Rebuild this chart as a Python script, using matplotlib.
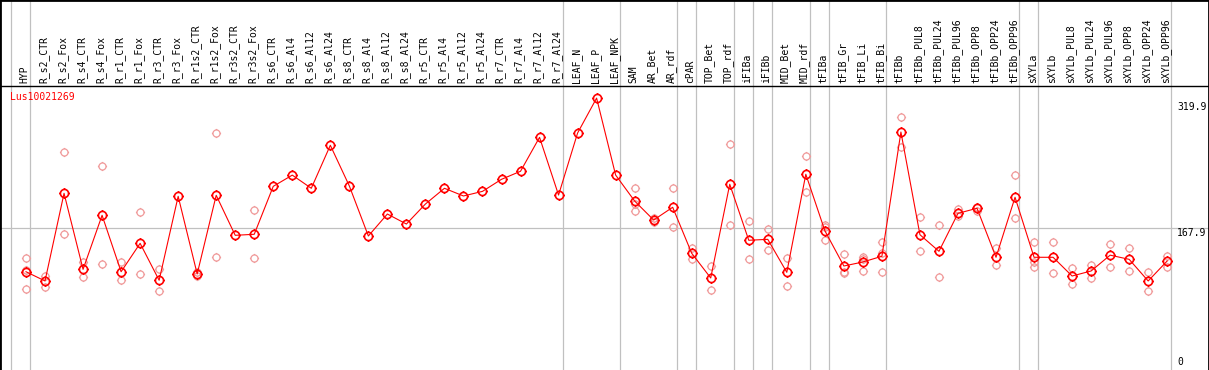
#!/usr/bin/env python3
# expression profile for Lus10021269

import matplotlib
matplotlib.use("Agg")
import matplotlib.pyplot as plt
from matplotlib.path import Path
import matplotlib.transforms as mtransforms
import numpy as np

gene = "Lus10021269"

samples = ["HYP",
           "R_s2_CTR", "R_s2_Fox", "R_s4_CTR", "R_s4_Fox", "R_r1_CTR", "R_r1_Fox",
           "R_r3_CTR", "R_r3_Fox", "R_r1s2_CTR", "R_r1s2_Fox", "R_r3s2_CTR", "R_r3s2_Fox",
           "R_s6_CTR", "R_s6_Al4", "R_s6_Al12", "R_s6_Al24",
           "R_s8_CTR", "R_s8_Al4", "R_s8_Al12", "R_s8_Al24",
           "R_r5_CTR", "R_r5_Al4", "R_r5_Al12", "R_r5_Al24",
           "R_r7_CTR", "R_r7_Al4", "R_r7_Al12", "R_r7_Al24",
           "LEAF_N", "LEAF_P", "LEAF_NPK",
           "SAM", "AR_Bet", "AR_rdf",
           "cPAR",
           "TOP_Bet", "TOP_rdf",
           "iFIBa",
           "iFIBb",
           "MID_Bet", "MID_rdf",
           "tFIBa",
           "tFIB_Gr", "tFIB_Li", "tFIB_Bi",
           "tFIBb", "tFIBb_PUL8", "tFIBb_PUL24", "tFIBb_PUL96",
           "tFIBb_OPP8", "tFIBb_OPP24", "tFIBb_OPP96",
           "sXYLa",
           "sXYLb", "sXYLb_PUL8", "sXYLb_PUL24", "sXYLb_PUL96",
           "sXYLb_OPP8", "sXYLb_OPP24", "sXYLb_OPP96"]

# number of samples between grey separators
group_sizes = [1, 28, 3, 3, 1, 2, 1, 1, 2, 1, 3, 7, 1, 7]

means = [116.8,
         106.0, 208.5, 119.6, 182.8, 116.8, 150.0,
         106.8, 205.0, 114.2, 206.2, 159.4, 160.6,
         216.7, 229.8, 214.4, 264.7,
         217.1, 158.6, 184.3, 172.6,
         196.0, 214.4, 205.4, 210.8,
         224.9, 234.3, 274.0, 206.5,
         279.0, 319.9, 229.9,
         199.5, 177.3, 192.2,
         138.4,
         109.5, 219.1,
         153.6,
         154.7,
         116.1, 230.8,
         164.8,
         123.5, 128.2, 134.9,
         280.2, 160.1, 140.7, 185.1,
         191.0, 133.7, 203.9,
         133.7,
         133.7, 111.8, 117.7, 136.2,
         131.3, 106.0, 129.4]

replicates = [[132.5, 118.8, 96.3],
              [112.2, 99.3], [256.5, 160.6], [128.6, 111.0], [240.5, 125.5],
              [127.8, 106.8], [186.3, 114.2], [120.0, 93.9], [],
              [116.1, 112.3], [278.7, 133.7], [], [188.7, 132.5],
              [], [], [], [], [], [], [], [], [], [], [], [], [], [], [], [],
              [], [], [],
              [214.4, 196.0, 188.2], [180.0, 174.6], [214.4, 168.8],
              [145.0, 131.7],
              [123.5, 95.1], [265.8, 171.5],
              [176.1, 131.7],
              [166.8, 142.2],
              [133.2, 100.1], [252.2, 209.7],
              [171.5, 168.8, 153.9],
              [137.2, 116.8, 115.7], [134.4, 131.7, 117.7], [151.2, 138.4, 116.1],
              [297.4, 262.7], [180.5, 141.1], [171.1, 110.3], [190.5, 182.0],
              [192.9, 187.8], [144.2, 124.3], [229.9, 179.3],
              [151.2, 127.8, 122.7],
              [151.2, 115.0], [121.2, 102.8], [124.7, 109.1], [149.2, 122.7],
              [144.2, 117.7], [116.8, 94.3], [135.6, 122.7]]

ref_level = 167.9


def ring_marker():
    # open circle with four short ticks, like the old eFP-style glyph
    t = np.linspace(0, 2 * np.pi, 41)
    ring = np.column_stack([np.cos(t), np.sin(t)])
    verts = list(ring)
    codes = [Path.MOVETO] + [Path.LINETO] * (len(ring) - 1)
    for dx, dy in [(0, 1), (0, -1), (1, 0), (-1, 0)]:
        verts += [(dx, dy), (dx * 1.3, dy * 1.3)]
        codes += [Path.MOVETO, Path.LINETO]
    return Path(verts, codes)


def plot(fig, ax):
    n = len(samples)
    x = np.arange(n)
    top = max(means)
    marker = ring_marker()

    # pixel-ish layout: 19 px per sample, first sample 26 px from the left
    ax.set_xlim(-26 / 19.02, (1209 - 26) / 19.02)
    ax.set_ylim(1.6 / 0.855, 371.6 / 0.855)

    # separators
    ends = np.cumsum(group_sizes) - 1
    for b in np.concatenate([[-1], ends]):
        ax.axvline(b + 0.21, color="#c0c0c0", lw=0.9, zorder=1)
    ax.axhline(ref_level, color="#c0c0c0", lw=0.9, zorder=1)

    # header strip with the sample names
    head = 1 - 85.5 / 370
    ax.axhline(ax.get_ylim()[0] + head * (ax.get_ylim()[1] - ax.get_ylim()[0]),
               color="black", lw=1.0, zorder=2)
    tr = mtransforms.blended_transform_factory(ax.transData, ax.transAxes)
    for i, s in enumerate(samples):
        ax.text(i - 0.07, 1 - 83 / 370, s, transform=tr, rotation=90,
                ha="center", va="bottom", fontsize=7, family="DejaVu Sans Mono")

    # replicates
    rx = [i for i, r in enumerate(replicates) for _ in r]
    ry = [v for r in replicates for v in r]
    ax.plot(rx, ry, ls="none", marker=marker, ms=6.6, mfc="none",
            mec="#f09a9a", mew=0.9, zorder=3)

    # means
    ax.plot(x, means, color="red", lw=0.8, marker=marker, ms=7.6, mfc="none",
            mec="red", mew=1.2, zorder=4)

    ax.text(10 / 1209, 1 - 97 / 370, gene, transform=ax.transAxes, color="red",
            fontsize=7, family="DejaVu Sans Mono", ha="left", va="center")

    # value labels on the right
    right = ends[-1] + 0.21
    for val, off in [(top, -9), (ref_level, -5), (0, 9.6)]:
        ax.annotate(f"{val:g}" if val == 0 else f"{val:.1f}", xy=(right, val),
                    xytext=(6, off), textcoords="offset pixels",
                    annotation_clip=False,
                    fontsize=7, family="DejaVu Sans Mono", ha="left", va="center")

    ax.set_xticks([])
    ax.set_yticks([])
    for side in ["left", "top", "right"]:
        ax.spines[side].set_color("black")
        ax.spines[side].set_linewidth(2.0)
    ax.spines["bottom"].set_visible(False)


def main():
    fig = plt.figure(figsize=(12.09, 3.70), dpi=100)
    ax = fig.add_axes([0, 0, 1, 1])
    plot(fig, ax)
    fig.savefig("out.png", dpi=100)


if __name__ == "__main__":
    main()
